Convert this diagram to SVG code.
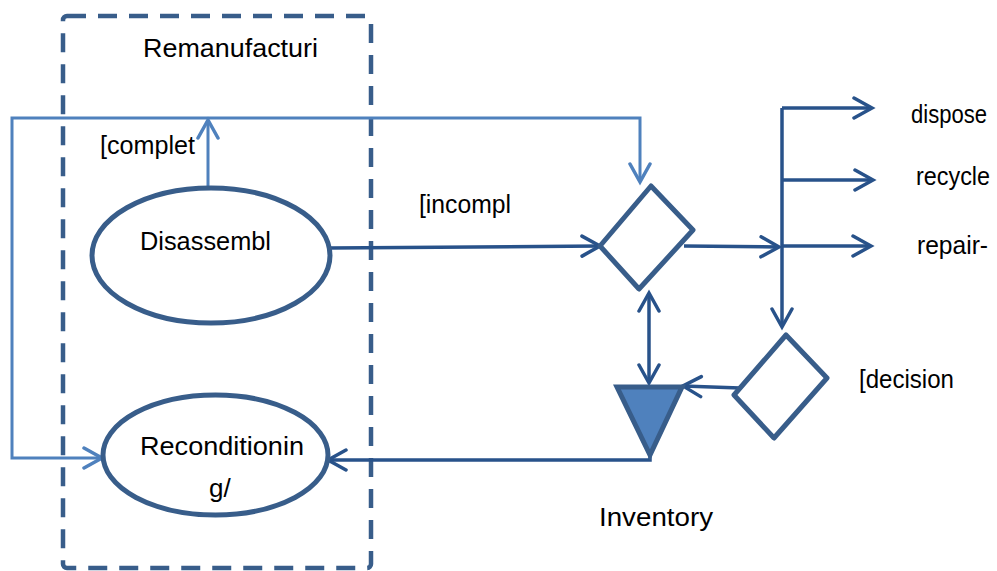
<svg xmlns="http://www.w3.org/2000/svg" width="997" height="571" viewBox="0 0 997 571">
<style>
  .lbl { font-family: "Liberation Sans", Arial, sans-serif; font-size: 26px; fill: #000; }
  .shape { fill: #fff; stroke: #385D8A; stroke-width: 5; }
  .dark { fill: none; stroke: #28528A; stroke-width: 3.5; }
  .light { fill: none; stroke: #4F81BD; stroke-width: 3; }
</style>
<defs>
  <marker id="aDark" markerUnits="userSpaceOnUse" markerWidth="26" markerHeight="26" refX="21" refY="12" orient="auto-start-reverse">
    <path d="M3,2 L21,12 L3,22" fill="none" stroke="#28528A" stroke-width="3.5" stroke-linecap="round" stroke-linejoin="miter"/>
  </marker>
  <marker id="aLight" markerUnits="userSpaceOnUse" markerWidth="26" markerHeight="26" refX="21" refY="12" orient="auto-start-reverse">
    <path d="M3,2 L21,12 L3,22" fill="none" stroke="#4F81BD" stroke-width="3.5" stroke-linecap="round"/>
  </marker>
</defs>
<rect width="997" height="571" fill="#fff"/>

<g id="remanufacturing-boundary">
  <rect x="63" y="16" width="308" height="552" rx="4" fill="none" stroke="#385D8A" stroke-width="4.5" stroke-dasharray="19 12"/>
  <text class="lbl" x="143" y="57" textLength="175" lengthAdjust="spacingAndGlyphs">Remanufacturi</text>
</g>

<g id="connectors">
  <path class="light" d="M102,458 L12,458 L12,118 L640,118 L640,182" marker-start="url(#aLight)" marker-end="url(#aLight)"/>
  <path class="light" d="M208,188 L208,120" marker-end="url(#aLight)"/>
  <path class="dark" d="M330,248 L600,246" marker-end="url(#aDark)"/>
  <path class="dark" d="M684,246 L779,247" marker-end="url(#aDark)"/>
  <path class="dark" d="M782,108 L782,327" marker-end="url(#aDark)"/>
  <path class="dark" d="M782,108 L872,108" marker-end="url(#aDark)"/>
  <path class="dark" d="M782,180 L873,180" marker-end="url(#aDark)"/>
  <path class="dark" d="M782,246 L871,246" marker-end="url(#aDark)"/>
  <path class="dark" d="M740,388 L683,386" marker-end="url(#aDark)"/>
  <path class="dark" d="M649,293 L649,383" marker-start="url(#aDark)" marker-end="url(#aDark)"/>
  <path class="dark" d="M650,455 L650,460 L328,460" marker-end="url(#aDark)"/>
</g>

<g id="disassembly">
  <ellipse class="shape" cx="211" cy="255.5" rx="119" ry="67.5"/>
  <text class="lbl" x="140" y="250" textLength="131" lengthAdjust="spacingAndGlyphs">Disassembl</text>
</g>

<g id="reconditioning">
  <ellipse class="shape" cx="215.5" cy="455" rx="112.5" ry="60"/>
  <text class="lbl" x="140" y="455" textLength="164" lengthAdjust="spacingAndGlyphs">Reconditionin</text>
  <text class="lbl" x="209" y="497">g/</text>
</g>

<g id="decision-1">
  <polygon class="shape" points="651,186 693,230 639,289 600,246" stroke-linejoin="round"/>
</g>

<g id="decision-2">
  <polygon class="shape" points="786,335 827,378 774,438 734,395" stroke-linejoin="round"/>
  <text class="lbl" x="859" y="388" textLength="95" lengthAdjust="spacingAndGlyphs">[decision</text>
</g>

<g id="inventory">
  <polygon points="617,387 682,387 650,455" fill="#4F81BD" stroke="#385D8A" stroke-width="5"/>
  <text class="lbl" x="599" y="526" textLength="114" lengthAdjust="spacingAndGlyphs">Inventory</text>
</g>

<g id="labels">
  <text class="lbl" x="100" y="154" textLength="95" lengthAdjust="spacingAndGlyphs">[complet</text>
  <text class="lbl" x="419" y="213" textLength="92" lengthAdjust="spacingAndGlyphs">[incompl</text>
  <text class="lbl" x="911" y="123" textLength="76" lengthAdjust="spacingAndGlyphs">dispose</text>
  <text class="lbl" x="916" y="185" textLength="74" lengthAdjust="spacingAndGlyphs">recycle</text>
  <text class="lbl" x="917" y="254" textLength="71" lengthAdjust="spacingAndGlyphs">repair-</text>
</g>
</svg>
